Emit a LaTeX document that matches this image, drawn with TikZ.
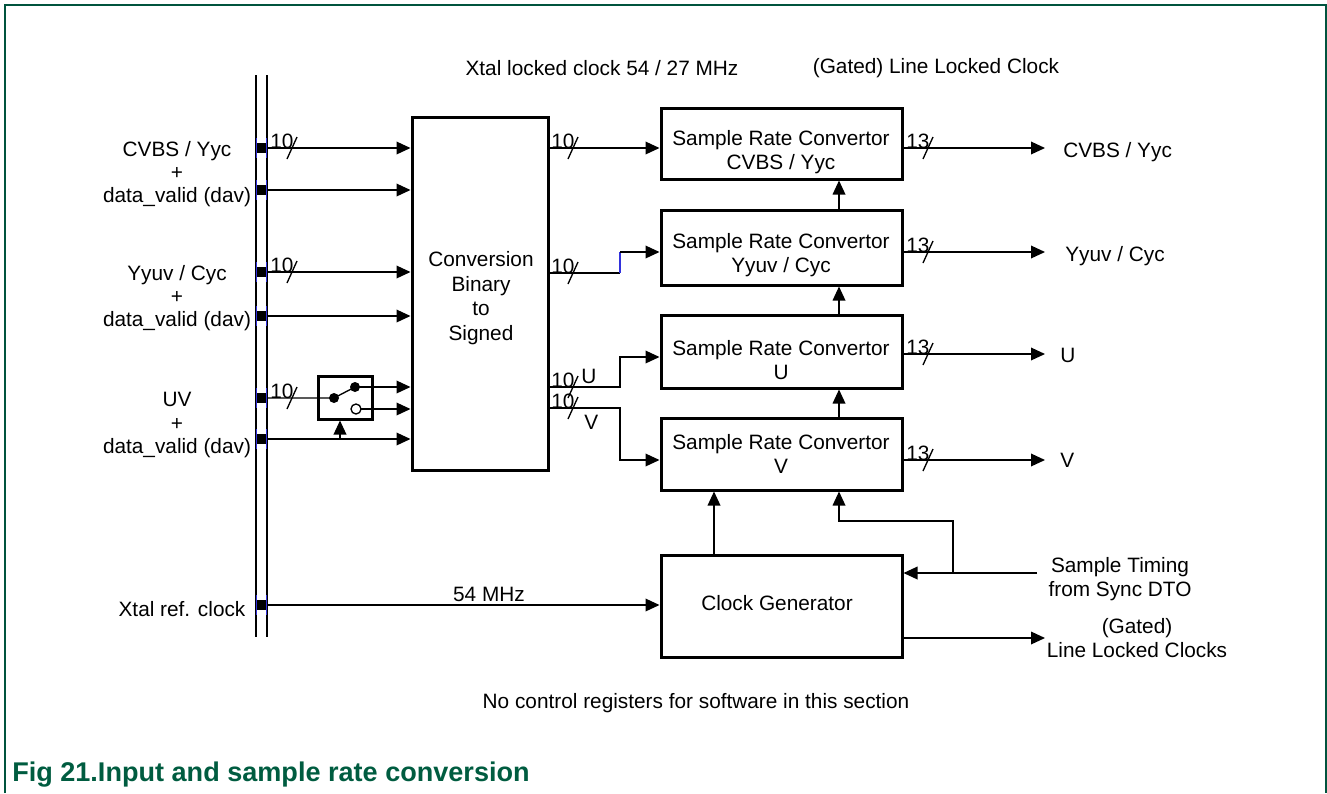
\documentclass[tikz,border=0pt]{standalone}
\usepackage{fontspec}
\setmainfont{Liberation Sans}
\usetikzlibrary{arrows.meta}
\definecolor{frameg}{RGB}{0,84,62}
\definecolor{capg}{RGB}{0,92,64}
\definecolor{pinb}{RGB}{50,50,220}
\newcommand\pinmark[2]{%
  \fill (257,#2-5) rectangle (266,#2+5);
  \draw[pinb, line width=0.8pt] (256.3,#2-10) -- (256.3,#2+10) (266.7,#2-10) -- (266.7,#2+10);
  \coordinate (#1) at (267,#2);}
\newcommand\buswidth[4]{% name, x0, y, text
  \node[anchor=base west, inner sep=0pt] (#1) at (#2+3,#3) {#4};
  \draw[wire] (#2+20,#3+11) -- (#2+30,#3-11);}
\begin{document}
\begin{tikzpicture}[x=0.75pt,y=-0.75pt,
  every node/.style={font=\fontsize{15.6}{18}\selectfont},
  blk/.style={draw, line width=2.25pt, inner sep=0pt, align=center},
  wire/.style={line width=1pt},
  arr/.style={wire, -{Triangle[length=10.5pt,width=9.5pt]}},
  lbl/.style={inner sep=0pt, align=center},
]
\useasboundingbox (0,0) rectangle (1327,793);
% frame
\draw[frameg, line width=1.5pt] (5,793) -- (5,5) -- (1326,5) -- (1326,793);

% bus
\draw[line width=1.2pt] (256,75) -- (256,637) (267,75) -- (267,637);
\pinmark{p1}{148}
\pinmark{p2}{190}
\pinmark{p3}{272}
\pinmark{p4}{316}
\pinmark{p5}{398}
\pinmark{p6}{439}
\pinmark{p7}{605}

% input labels
\node[lbl, font=\fontsize{15.6}{17}\selectfont] (l1) at (177,174) {CVBS / Yyc\\+\\data\_valid (dav)};
\node[lbl, font=\fontsize{15.6}{17}\selectfont] (l2) at (177,298) {Yyuv / Cyc\\+\\data\_valid (dav)};
\node[lbl, font=\fontsize{15.6}{17.5}\selectfont] (l3) at (177,425) {UV\\+\\data\_valid (dav)};
\node[lbl] (l4) at (182,609) {Xtal ref. clock};

% blocks
\node[blk, minimum width=102pt, minimum height=264.75pt] (conv) at (480,293.5) {};
\node[lbl, font=\fontsize{15.6}{18.5}\selectfont] (convt) at (481,298) {Conversion\\Binary\\to\\Signed};
\node[blk, minimum width=180.75pt, minimum height=53.25pt] (s1) at (781.5,143.5) {};
\node[blk, minimum width=180.75pt, minimum height=56.25pt] (s2) at (781.5,247.5) {};
\node[blk, minimum width=180.75pt, minimum height=54.75pt] (s3) at (781.5,351.5) {};
\node[blk, minimum width=180.75pt, minimum height=54pt] (s4) at (781.5,454) {};
\node[lbl] (s1t) at (781,152) {Sample Rate Convertor\\CVBS / Yyc};
\node[lbl] (s2t) at (781,255) {Sample Rate Convertor\\Yyuv / Cyc};
\node[lbl] (s3t) at (781,360) {Sample Rate Convertor\\U};
\node[lbl] (s4t) at (781,454) {Sample Rate Convertor\\V};
\node[blk, minimum width=180.75pt, minimum height=76.5pt] (cg) at (781.5,606) {};
\node[lbl] (cgt) at (777,603) {Clock Generator};

% switch
\node[draw, line width=2.25pt, minimum width=40.5pt, minimum height=32.25pt, inner sep=0pt] (sw) at (345,397.5) {};
\coordinate (d1) at (334,398);
\coordinate (d2) at (355,387);
\coordinate (d3) at (356,409);
\draw[wire] (p5) -- (d1) -- (d2);
\fill (d1) circle (5);
\fill (d2) circle (5);
\draw[wire, fill=white] (d3) circle (5);
\draw[arr] (d2) -- (d2 -| conv.west);
\draw[arr] ([xshift=3.75pt]d3) -- (d3 -| conv.west);

% inputs into conversion
\draw[arr] (p1) -- (p1 -| conv.west);
\draw[arr] (p2) -- (p2 -| conv.west);
\draw[arr] (p3) -- (p3 -| conv.west);
\draw[arr] (p4) -- (p4 -| conv.west);
\draw[arr] (p6) -- (p6 -| conv.west);
\coordinate (c6) at (340,439);
\draw[arr] (c6) -- (c6 |- sw.south);
\buswidth{w1}{267}{148}{10}
\buswidth{w2}{267}{272}{10}
\buswidth{w3}{267}{398}{10}

% conversion outputs
\coordinate (o1) at (548,148);
\coordinate (o2) at (548,273);
\coordinate (o3) at (548,387);
\coordinate (o4) at (548,408);
\draw[arr] (o1) -- (o1 -| s1.west);
\draw[wire] (o2) -- (620,273);
\draw[wire, pinb] (620,273) -- (620,252);
\draw[arr] (620,252) -- (s2.west |- 620,252);
\draw[arr] (o3) -- (620,387) -- (620,357) -- (s3.west |- 620,357);
\draw[arr] (o4) -- (620,408) -- (620,460) -- (s4.west |- 620,460);
\buswidth{w4}{548}{148}{10}
\buswidth{w5}{548}{273}{10}
\buswidth{w6}{548}{387}{10}
\buswidth{w7}{548}{408}{10}
\node[anchor=base west, inner sep=0pt] (lu) at (581,383) {U};
\node[anchor=base west, inner sep=0pt] (lv) at (584,429) {V};

% chain arrows
\draw[arr] (s2.north -| 839,0) -- (s1.south -| 839,0);
\draw[arr] (s3.north -| 839,0) -- (s2.south -| 839,0);
\draw[arr] (s4.north -| 839,0) -- (s3.south -| 839,0);
\draw[arr] (cg.north -| 714,0) -- (s4.south -| 714,0);

% outputs
\coordinate (q1) at (1045,148);
\coordinate (q2) at (1045,252);
\coordinate (q3) at (1045,354);
\coordinate (q4) at (1045,460);
\draw[arr] (q1 -| s1.east) -- (q1);
\draw[arr] (q2 -| s2.east) -- (q2);
\draw[arr] (q3 -| s3.east) -- (q3);
\draw[arr] (q4 -| s4.east) -- (q4);
\buswidth{w8}{903}{148}{13}
\buswidth{w9}{903}{252}{13}
\buswidth{w10}{903}{354}{13}
\buswidth{w11}{903}{460}{13}
\node[anchor=west, inner sep=0pt] (r1) at (1063,152) {CVBS / Yyc};
\node[anchor=west, inner sep=0pt] (r2) at (1065,256) {Yyuv / Cyc};
\node[anchor=west, inner sep=0pt] (r3) at (1060,355) {U};
\node[anchor=west, inner sep=0pt] (r4) at (1060,460) {V};

% clock generator connections
\draw[arr] (p7) -- (p7 -| cg.west);
\node[lbl] (m54) at (489,594) {54 MHz};
\coordinate (st) at (1037,573);
\coordinate (br) at (953,573);
\draw[arr] (st) -- (st -| cg.east);
\draw[arr] (br) -- (953,521) -- (839,521) -- (s4.south -| 839,0);
\coordinate (gl) at (1045,638);
\draw[arr] (gl -| cg.east) -- (gl);
\node[lbl] (tim) at (1120,579) {Sample Timing\\from Sync DTO};
\node[lbl] (gat) at (1137,638) {(Gated)\\Line Locked Clocks};

% top and bottom texts
\node[lbl] (t1) at (602,68) {Xtal locked clock 54 / 27 MHz};
\node[lbl] (t2) at (936,68) {(Gated) Line Locked Clock};
\node[lbl] (t3) at (696,703) {No control registers for software in this section};
\node[anchor=west, inner sep=0pt, text=capg, font=\fontsize{20.3}{24}\selectfont\bfseries] (cap) at (12,775) {Fig 21.Input and sample rate conversion};
\end{tikzpicture}
\end{document}
